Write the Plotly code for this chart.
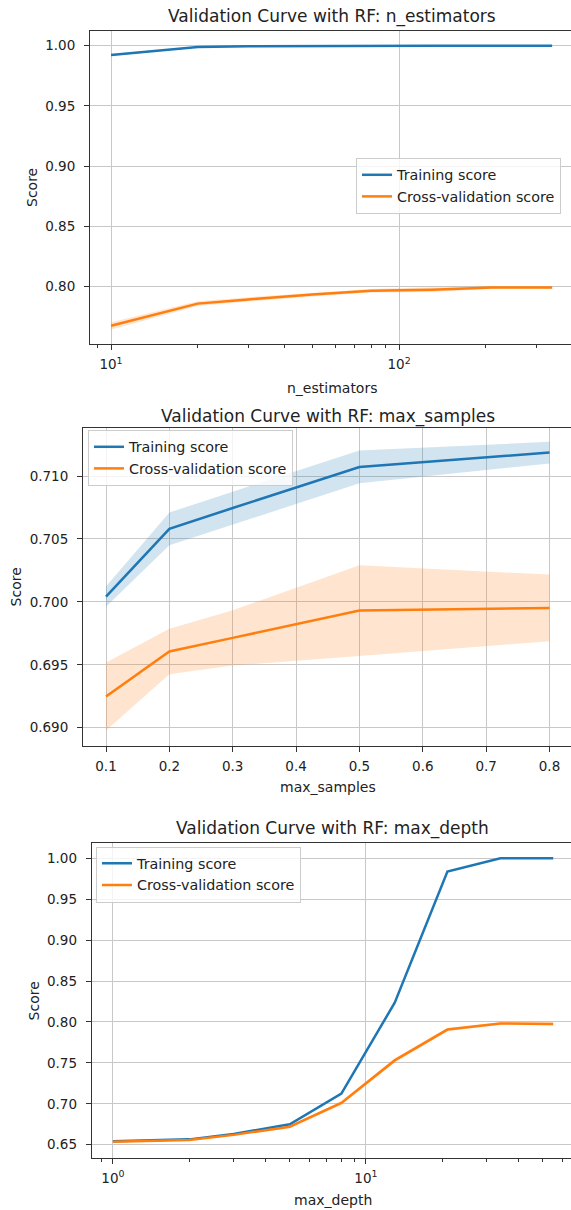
import plotly.graph_objects as go

# ---------------- data ----------------
# Panel 1: n_estimators
n_estimators = [10, 20, 30, 50, 80, 130, 210, 340]
ne_train_mean = [0.9923, 0.9989, 0.9996, 0.9999, 1.0, 1.0, 1.0, 1.0]
ne_train_std = [0.0008, 0.0004, 0.0003, 0.0001, 0.0, 0.0, 0.0, 0.0]
ne_cv_mean = [0.7676, 0.7860, 0.7895, 0.7936, 0.7967, 0.7976, 0.7994, 0.7994]
ne_cv_std = [0.0030, 0.0020, 0.0018, 0.0016, 0.0015, 0.0020, 0.0013, 0.0013]

# Panel 2: max_samples
max_samples = [0.1, 0.2, 0.3, 0.5, 0.8]
ms_train_mean = [0.70042, 0.70580, 0.70746, 0.71072, 0.71186]
ms_train_std = [0.0008, 0.0013, 0.0013, 0.0013, 0.00086]
ms_cv_mean = [0.69249, 0.69606, 0.69714, 0.69931, 0.69952]
ms_cv_std = [0.0027, 0.0018, 0.0022, 0.0036, 0.00265]

# Panel 3: max_depth
max_depth = [1, 2, 3, 5, 8, 13, 21, 34, 55]
md_train_mean = [0.6541, 0.6565, 0.6630, 0.6750, 0.7125, 0.8235, 0.9838, 1.0, 1.0]
md_train_std = [0.0006, 0.0005, 0.0005, 0.0006, 0.0008, 0.0010, 0.0008, 0.0, 0.0]
md_cv_mean = [0.6536, 0.6558, 0.6620, 0.6720, 0.7010, 0.7530, 0.7907, 0.7982, 0.7975]
md_cv_std = [0.0010, 0.0010, 0.0012, 0.0015, 0.0025, 0.0025, 0.0020, 0.0015, 0.0020]

# tick labels
ne_xticks = [10, 100]
ne_xticktext = ["10<sup>1</sup>", "10<sup>2</sup>"]
ne_xminor = [9, 20, 30, 40, 50, 60, 70, 80, 90, 200, 300, 400, 500]
ne_yticks = [0.80, 0.85, 0.90, 0.95, 1.00]

ms_xticks = [0.1, 0.2, 0.3, 0.4, 0.5, 0.6, 0.7, 0.8]
ms_yticks = [0.690, 0.695, 0.700, 0.705, 0.710]

md_xticks = [1, 10]
md_xticktext = ["10<sup>0</sup>", "10<sup>1</sup>"]
md_xminor = [0.9, 2, 3, 4, 5, 6, 7, 8, 9, 20, 30, 40, 50, 60]
md_yticks = [0.65, 0.70, 0.75, 0.80, 0.85, 0.90, 0.95, 1.00]

titles = ["Validation Curve with RF: n_estimators",
          "Validation Curve with RF: max_samples",
          "Validation Curve with RF: max_depth"]
xlabels = ["n_estimators", "max_samples", "max_depth"]
ylabel = "Score"
legend_names = ["Training score", "Cross-validation score"]

BLUE = "#1f77b4"
ORANGE = "#ff7f0e"
BLUE_FILL = "rgba(31,119,180,0.2)"
ORANGE_FILL = "rgba(255,127,14,0.2)"

W, H = 571, 1210
fig = go.Figure()


def add_panel(idx, x, tr_m, tr_s, cv_m, cv_s):
    sfx = "" if idx == 1 else str(idx)
    xa, ya = "x" + sfx, "y" + sfx
    leg = "legend" + sfx
    for m, s, col, fcol, name in [(tr_m, tr_s, BLUE, BLUE_FILL, legend_names[0]),
                                  (cv_m, cv_s, ORANGE, ORANGE_FILL, legend_names[1])]:
        fig.add_trace(go.Scatter(x=x, y=m, mode="lines", name=name,
                                 line=dict(color=col, width=2.5),
                                 xaxis=xa, yaxis=ya, legend=leg, showlegend=True))
        up = [a + b for a, b in zip(m, s)]
        lo = [a - b for a, b in zip(m, s)]
        fig.add_trace(go.Scatter(x=list(x) + list(x)[::-1], y=up + lo[::-1],
                                 fill="toself", fillcolor=fcol, mode="lines",
                                 line=dict(width=0, color=fcol), hoverinfo="skip",
                                 xaxis=xa, yaxis=ya, showlegend=False))


add_panel(1, n_estimators, ne_train_mean, ne_train_std, ne_cv_mean, ne_cv_std)
add_panel(2, max_samples, ms_train_mean, ms_train_std, ms_cv_mean, ms_cv_std)
add_panel(3, max_depth, md_train_mean, md_train_std, md_cv_mean, md_cv_std)

AX = "#333333"
GRID = "#c8c8c8"
common = dict(showline=True, linecolor=AX, linewidth=1, ticks="outside", ticklen=5,
              tickwidth=1, tickcolor=AX, showgrid=True, gridcolor=GRID, gridwidth=1,
              zeroline=False, tickfont=dict(size=13.5, color="#222"))

# pixel geometry of plot areas (left, top, bottom); right edge runs to the page edge
boxes = [(90, 31, 344), (83, 427.7, 746), (91.7, 843.3, 1157.7)]


def ydom(top, bot):
    return [1 - bot / H, 1 - top / H]


minor_style = dict(ticks="outside", ticklen=3, tickwidth=1, tickcolor=AX, showgrid=False,
                   tickmode="array")

fig.update_layout(
    xaxis=dict(common, type="log", range=[0.927, 2.597], domain=[boxes[0][0] / W, 1],
               anchor="y", mirror=True, tickmode="array", tickvals=ne_xticks,
               ticktext=ne_xticktext, ticklabelstandoff=3,
               minor=dict(minor_style, tickvals=ne_xminor)),
    yaxis=dict(common, range=[0.7525, 1.0122], domain=ydom(boxes[0][1], boxes[0][2]),
               anchor="x", tickmode="array", tickvals=ne_yticks, tickformat=".2f",
               ticklabelstandoff=6),
    xaxis2=dict(common, range=[0.0637, 0.8339], domain=[boxes[1][0] / W, 1],
                anchor="y2", mirror=True, tickmode="array", tickvals=ms_xticks,
                tickformat=".1f", ticklabelstandoff=3),
    yaxis2=dict(common, range=[0.68855, 0.71384], domain=ydom(boxes[1][1], boxes[1][2]),
                anchor="x2", tickmode="array", tickvals=ms_yticks, tickformat=".3f",
                ticklabelstandoff=6),
    xaxis3=dict(common, type="log", range=[-0.0838, 1.8107], domain=[boxes[2][0] / W, 1],
                anchor="y3", mirror=True, tickmode="array", tickvals=md_xticks,
                ticktext=md_xticktext, ticklabelstandoff=3,
                minor=dict(minor_style, tickvals=md_xminor)),
    yaxis3=dict(common, range=[0.6341, 1.0183], domain=ydom(boxes[2][1], boxes[2][2]),
                anchor="x3", tickmode="array", tickvals=md_yticks, tickformat=".2f",
                ticklabelstandoff=6),
)

leg_common = dict(xanchor="left", yanchor="top", bgcolor="rgba(255,255,255,0.8)",
                  bordercolor="#cccccc", borderwidth=1, font=dict(size=14.3, color="#222"))
fig.update_layout(
    legend=dict(leg_common, x=356 / W, y=1 - 158 / H),
    legend2=dict(leg_common, x=88 / W, y=1 - 430 / H),
    legend3=dict(leg_common, x=96 / W, y=1 - 846.5 / H),
)

# titles and axis labels
title_pos = [(332, 16.7), (328, 416.7), (332, 828.3)]
xlabel_pos = [(332, 388), (328, 787), (332.5, 1200)]
ylabel_pos = [(32, 188), (16.4, 587), (33.9, 1000.5)]
ann = []
for i in range(3):
    ann.append(dict(text=titles[i], x=title_pos[i][0] / W, y=1 - title_pos[i][1] / H,
                    xref="paper", yref="paper", showarrow=False, xanchor="center",
                    yanchor="middle", font=dict(size=17, color="#222")))
    ann.append(dict(text=xlabels[i], x=xlabel_pos[i][0] / W, y=1 - xlabel_pos[i][1] / H,
                    xref="paper", yref="paper", showarrow=False, xanchor="center",
                    yanchor="middle", font=dict(size=14, color="#222")))
    ann.append(dict(text=ylabel, x=ylabel_pos[i][0] / W, y=1 - ylabel_pos[i][1] / H,
                    xref="paper", yref="paper", showarrow=False, xanchor="center",
                    yanchor="middle", textangle=-90, font=dict(size=14, color="#222")))

fig.update_layout(
    width=W, height=H, margin=dict(l=0, r=0, t=0, b=0),
    paper_bgcolor="white", plot_bgcolor="white",
    font=dict(family="DejaVu Sans", size=14, color="#222"),
    annotations=ann,
)

fig.write_html("out.html",
               config={"displayModeBar": False},
               post_script="document.body.style.margin='0';"
                           "document.body.style.overflow='hidden';")
